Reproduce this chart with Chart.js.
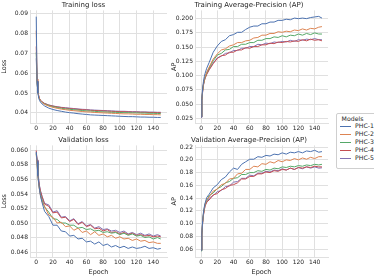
<!DOCTYPE html>
<html>
<head>
<meta charset="utf-8">
<script src="https://cdn.jsdelivr.net/npm/chart.js@4.4.1/dist/chart.umd.min.js"></script>
<style>
  html, body { margin:0; padding:0; background:#fff; width:374px; height:276px; overflow:hidden; font-family:"DejaVu Sans", sans-serif; }
  .box { position:absolute; }
  #legend { position:absolute; left:336px; top:113px; width:40px; height:56px; border:1px solid #cfcfcf; border-radius:2px; box-sizing:border-box; background:#fff; color:#262626; font-size:6.2px; }
  #legend .t { position:absolute; left:0; width:31px; top:1px; text-align:center; color:#262626; }
  #legend .e { position:absolute; left:2px; height:8px; }
  #legend .sw { position:absolute; left:1px; top:3.5px; width:11px; height:1px; }
  #legend .lb { position:absolute; left:16px; top:-0.5px; white-space:nowrap; color:#262626; }
</style>
</head>
<body>
<div class="box" style="left:0;top:0;width:170px;height:135px"><canvas id="c1"></canvas></div>
<div class="box" style="left:170px;top:0;width:160px;height:135px"><canvas id="c2"></canvas></div>
<div class="box" style="left:0;top:135px;width:170px;height:141px"><canvas id="c3"></canvas></div>
<div class="box" style="left:170px;top:135px;width:160px;height:141px"><canvas id="c4"></canvas></div>
<div id="legend"></div>
<script>
// ---------------- data ----------------
const models = ["PHC-1", "PHC-2", "PHC-3", "PHC-4", "PHC-5"];
const colors = ["#4C72B0", "#DD8452", "#55A868", "#C44E52", "#8172B3"];
const epochs = [0,1,2,3,4,5,7,10,15,20,25,30,35,40,45,50,55,60,65,70,75,80,85,90,95,100,105,110,115,120,125,130,135,140,145,149];
const xTicks = [0,20,40,60,80,100,120,140];

const trainLoss1 = [0.0885,0.0560,0.0500,0.0475,0.0462,0.0455,0.0445,0.0435,0.0424,0.0417,0.0412,0.0408,0.0404,0.0401,0.0399,0.0396,0.0394,0.0392,0.0390,0.0389,0.0388,0.0387,0.0386,0.0385,0.0384,0.0383,0.0382,0.0381,0.0381,0.0380,0.0379,0.0379,0.0378,0.0378,0.0377,0.0377];
const trainLoss2 = [0.0815,0.0570,0.0510,0.0485,0.0470,0.0462,0.0452,0.0443,0.0434,0.0428,0.0423,0.0419,0.0416,0.0413,0.0411,0.0409,0.0407,0.0405,0.0404,0.0402,0.0401,0.0400,0.0399,0.0398,0.0397,0.0396,0.0395,0.0395,0.0394,0.0393,0.0393,0.0392,0.0392,0.0391,0.0391,0.0390];
const trainLoss3 = [0.0705,0.0555,0.0505,0.0482,0.0469,0.0462,0.0453,0.0445,0.0437,0.0431,0.0427,0.0423,0.0420,0.0418,0.0416,0.0414,0.0412,0.0410,0.0409,0.0408,0.0406,0.0405,0.0404,0.0403,0.0403,0.0402,0.0401,0.0401,0.0400,0.0400,0.0399,0.0399,0.0398,0.0398,0.0397,0.0397];
const trainLoss4 = [0.0735,0.0560,0.0508,0.0485,0.0472,0.0464,0.0455,0.0447,0.0439,0.0434,0.0430,0.0427,0.0424,0.0422,0.0420,0.0418,0.0416,0.0415,0.0413,0.0412,0.0411,0.0410,0.0409,0.0408,0.0407,0.0406,0.0406,0.0405,0.0404,0.0404,0.0403,0.0403,0.0402,0.0402,0.0401,0.0401];
const trainLoss5 = [0.0675,0.0552,0.0506,0.0484,0.0472,0.0465,0.0456,0.0448,0.0440,0.0435,0.0431,0.0428,0.0426,0.0424,0.0422,0.0420,0.0418,0.0417,0.0415,0.0414,0.0413,0.0412,0.0411,0.0410,0.0409,0.0408,0.0408,0.0407,0.0406,0.0406,0.0405,0.0405,0.0404,0.0404,0.0403,0.0403];

const trainAP1 = [0.027,0.060,0.078,0.090,0.098,0.104,0.113,0.123,0.141,0.152,0.160,0.163,0.170,0.172,0.176,0.176,0.181,0.185,0.187,0.187,0.191,0.191,0.194,0.194,0.197,0.197,0.199,0.198,0.201,0.200,0.201,0.200,0.202,0.203,0.204,0.201];
const trainAP2 = [0.028,0.058,0.075,0.086,0.093,0.098,0.106,0.115,0.129,0.138,0.145,0.147,0.152,0.154,0.158,0.158,0.161,0.162,0.166,0.167,0.171,0.171,0.174,0.174,0.177,0.176,0.178,0.177,0.180,0.179,0.182,0.180,0.183,0.182,0.185,0.186];
const trainAP3 = [0.028,0.057,0.074,0.085,0.092,0.097,0.105,0.113,0.126,0.136,0.139,0.145,0.146,0.151,0.151,0.155,0.155,0.158,0.158,0.162,0.162,0.165,0.165,0.168,0.167,0.170,0.168,0.171,0.170,0.173,0.171,0.174,0.172,0.175,0.173,0.173];
const trainAP4 = [0.027,0.056,0.072,0.083,0.090,0.095,0.102,0.110,0.121,0.130,0.135,0.136,0.141,0.141,0.145,0.145,0.149,0.148,0.151,0.151,0.154,0.154,0.157,0.156,0.159,0.158,0.160,0.159,0.161,0.160,0.163,0.161,0.164,0.162,0.163,0.161];
const trainAP5 = [0.027,0.056,0.073,0.084,0.091,0.096,0.103,0.111,0.122,0.131,0.134,0.139,0.140,0.144,0.144,0.148,0.148,0.151,0.151,0.155,0.154,0.157,0.156,0.159,0.158,0.160,0.159,0.162,0.160,0.163,0.162,0.164,0.163,0.165,0.163,0.163];

const valLoss1 = [0.0598,0.0585,0.0565,0.0555,0.0545,0.0538,0.0528,0.0516,0.0509,0.0497,0.0497,0.0489,0.0488,0.0482,0.0483,0.0478,0.0479,0.0474,0.0475,0.0471,0.0474,0.0469,0.0471,0.0467,0.0469,0.0466,0.0468,0.0465,0.0467,0.0465,0.0466,0.0468,0.0465,0.0466,0.0464,0.0465];
const valLoss2 = [0.0595,0.0580,0.0565,0.0553,0.0545,0.0538,0.0529,0.0523,0.0511,0.0508,0.0500,0.0501,0.0495,0.0496,0.0490,0.0493,0.0487,0.0489,0.0484,0.0488,0.0483,0.0485,0.0481,0.0483,0.0479,0.0481,0.0478,0.0479,0.0476,0.0478,0.0475,0.0476,0.0473,0.0474,0.0472,0.0472];
const valLoss3 = [0.0596,0.0582,0.0566,0.0554,0.0546,0.0540,0.0532,0.0522,0.0515,0.0506,0.0505,0.0500,0.0500,0.0497,0.0497,0.0493,0.0494,0.0491,0.0492,0.0489,0.0490,0.0487,0.0488,0.0486,0.0487,0.0484,0.0486,0.0483,0.0485,0.0482,0.0483,0.0480,0.0481,0.0478,0.0480,0.0478];
const valLoss4 = [0.0600,0.0586,0.0570,0.0558,0.0550,0.0544,0.0536,0.0526,0.0523,0.0514,0.0515,0.0507,0.0508,0.0502,0.0505,0.0498,0.0501,0.0495,0.0497,0.0492,0.0493,0.0489,0.0491,0.0487,0.0488,0.0485,0.0487,0.0484,0.0486,0.0483,0.0484,0.0482,0.0483,0.0481,0.0482,0.0481];
const valLoss5 = [0.0597,0.0587,0.0572,0.0560,0.0551,0.0545,0.0537,0.0527,0.0525,0.0515,0.0517,0.0508,0.0509,0.0503,0.0506,0.0499,0.0502,0.0496,0.0498,0.0493,0.0495,0.0491,0.0492,0.0489,0.0490,0.0487,0.0489,0.0485,0.0487,0.0484,0.0486,0.0483,0.0485,0.0482,0.0484,0.0482];

const valAP1 = [0.058,0.085,0.105,0.118,0.126,0.132,0.141,0.146,0.156,0.161,0.169,0.173,0.181,0.187,0.185,0.193,0.197,0.201,0.201,0.205,0.204,0.207,0.206,0.209,0.208,0.211,0.209,0.212,0.211,0.213,0.211,0.214,0.213,0.215,0.212,0.213];
const valAP2 = [0.058,0.084,0.104,0.116,0.124,0.130,0.138,0.142,0.151,0.154,0.161,0.163,0.170,0.171,0.178,0.179,0.185,0.185,0.190,0.189,0.194,0.193,0.197,0.195,0.199,0.197,0.200,0.199,0.202,0.200,0.203,0.201,0.204,0.202,0.205,0.205];
const valAP3 = [0.057,0.083,0.103,0.116,0.124,0.131,0.136,0.144,0.148,0.155,0.158,0.164,0.166,0.171,0.172,0.177,0.177,0.180,0.180,0.183,0.182,0.185,0.184,0.187,0.186,0.189,0.188,0.190,0.189,0.191,0.190,0.192,0.191,0.193,0.192,0.193];
const valAP4 = [0.059,0.082,0.101,0.113,0.121,0.127,0.134,0.137,0.145,0.147,0.153,0.155,0.160,0.161,0.164,0.170,0.170,0.174,0.174,0.178,0.178,0.181,0.180,0.183,0.182,0.185,0.184,0.187,0.185,0.188,0.187,0.189,0.188,0.190,0.189,0.189];
const valAP5 = [0.058,0.082,0.102,0.114,0.122,0.129,0.133,0.140,0.144,0.150,0.152,0.158,0.159,0.165,0.166,0.171,0.171,0.176,0.175,0.179,0.179,0.182,0.181,0.184,0.183,0.186,0.184,0.187,0.185,0.188,0.186,0.189,0.187,0.189,0.187,0.1875];

const trainLossTicks = [0.04,0.05,0.06,0.07,0.08,0.09];
const trainAPTicks = [0.025,0.050,0.075,0.100,0.125,0.150,0.175,0.200];
const valLossTicks = [0.046,0.048,0.050,0.052,0.054,0.056,0.058,0.060];
const valAPTicks = [0.06,0.08,0.10,0.12,0.14,0.16,0.18,0.20,0.22];

// ---------------- drawing ----------------
const FONT = "'DejaVu Sans', sans-serif";
const TXT = "#262626";
const GRID = "#e0e0e0";

function makeChart(id, cfg) {
  const datasets = cfg.series.map((vals, i) => ({
    label: models[i],
    data: epochs.map((e, k) => ({ x: e, y: vals[k] })),
    borderColor: colors[i],
    backgroundColor: colors[i],
    borderWidth: 1,
    pointRadius: 0,
    tension: 0,
    fill: false
  }));
  return new Chart(document.getElementById(id), {
    type: 'line',
    data: { datasets },
    options: {
      responsive: true,
      maintainAspectRatio: false,
      animation: false,
      devicePixelRatio: 1,
      layout: { padding: { left: 0, right: cfg.padRight, top: 0, bottom: 0 } },
      plugins: {
        legend: { display: false },
        tooltip: { enabled: false },
        title: {
          display: true, text: cfg.title, color: TXT,
          font: { family: FONT, size: 7, weight: 'normal' },
          padding: { top: 1, bottom: 1 }
        }
      },
      scales: {
        x: {
          type: 'linear', min: -7.45, max: 156.45,
          afterBuildTicks: ax => { ax.ticks = xTicks.map(v => ({ value: v })); },
          afterFit: ax => { ax.height = cfg.xHeight; },
          ticks: { color: TXT, font: { family: FONT, size: 6 }, padding: 2, maxRotation: 0, callback: v => String(v) },
          grid: { color: GRID, lineWidth: 1, drawTicks: false },
          border: { display: true, color: GRID, width: 1 },
          title: { display: !!cfg.xTitle, text: cfg.xTitle || '', color: TXT, font: { family: FONT, size: 6.5 }, padding: { top: 0, bottom: 0 } }
        },
        y: {
          type: 'linear', min: cfg.yMin, max: cfg.yMax,
          afterBuildTicks: ax => { ax.ticks = cfg.yTicks.map(v => ({ value: v })); },
          afterFit: ax => { ax.width = cfg.yWidth; },
          ticks: { color: TXT, font: { family: FONT, size: 6 }, padding: 2, callback: v => v.toFixed(cfg.dec) },
          grid: { color: GRID, lineWidth: 1, drawTicks: false },
          border: { display: true, color: GRID, width: 1 },
          title: { display: true, text: cfg.yTitle, color: TXT, font: { family: FONT, size: 6.5 }, padding: { top: 0, bottom: 0 } }
        }
      }
    }
  });
}

makeChart('c1', { title: 'Training loss', yTitle: 'Loss', series: [trainLoss1, trainLoss2, trainLoss3, trainLoss4, trainLoss5],
  yMin: 0.0349, yMax: 0.09166, yTicks: trainLossTicks, dec: 2, yWidth: 30, padRight: 3, xHeight: 12 });
makeChart('c2', { title: 'Training Average-Precision (AP)', yTitle: 'AP', series: [trainAP1, trainAP2, trainAP3, trainAP4, trainAP5],
  yMin: 0.0167, yMax: 0.2145, yTicks: trainAPTicks, dec: 3, yWidth: 25, padRight: 2, xHeight: 12 });
makeChart('c3', { title: 'Validation loss', yTitle: 'Loss', xTitle: 'Epoch', series: [valLoss1, valLoss2, valLoss3, valLoss4, valLoss5],
  yMin: 0.04532, yMax: 0.06069, yTicks: valLossTicks, dec: 3, yWidth: 30, padRight: 3, xHeight: 19 });
makeChart('c4', { title: 'Validation Average-Precision (AP)', yTitle: 'AP', xTitle: 'Epoch', series: [valAP1, valAP2, valAP3, valAP4, valAP5],
  yMin: 0.0475, yMax: 0.2227, yTicks: valAPTicks, dec: 2, yWidth: 25, padRight: 2, xHeight: 19 });

// legend
const lg = document.getElementById('legend');
let html = '<div class="t">Models</div>';
models.forEach((m, i) => {
  html += '<div class="e" style="top:' + (8 + i * 8.1) + 'px"><div class="sw" style="background:' + colors[i] + '"></div><div class="lb">' + m + '</div></div>';
});
lg.innerHTML = html;
</script>
</body>
</html>
